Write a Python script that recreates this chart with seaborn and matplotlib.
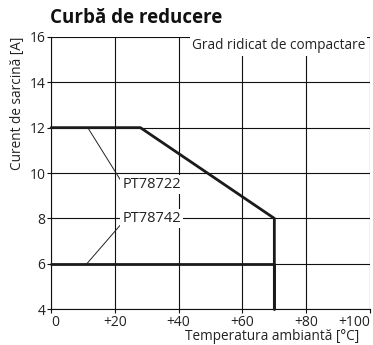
import matplotlib
matplotlib.use("Agg")
import matplotlib.pyplot as plt
import seaborn as sns
import pandas as pd

# Derating curves: ambient temperature [°C] vs. load current [A]
temp_pt78722 = [0, 28, 70, 70]
load_pt78722 = [12, 12, 8, 4]
temp_pt78742 = [0, 70, 70]
load_pt78742 = [6, 6, 4]

x_ticks = [0, 20, 40, 60, 80, 100]
x_tick_labels = ["0", "+20", "+40", "+60", "+80", "+100"]
y_ticks = [4, 6, 8, 10, 12, 14, 16]

sns.set_theme(style="white")
plt.rcParams["font.family"] = ["Open Sans", "DejaVu Sans"]

df = pd.concat([
    pd.DataFrame({"temp": temp_pt78722, "load": load_pt78722,
                  "model": "PT78722"}),
    pd.DataFrame({"temp": temp_pt78742, "load": load_pt78742,
                  "model": "PT78742"}),
], ignore_index=True)

fig = plt.figure(figsize=(3.73, 3.45), dpi=100)
ax = fig.add_axes([0.137, 0.104, 0.855, 0.789])

ax.set_xlim(0, 100)
ax.set_ylim(4, 16)
ax.set_xticks(x_ticks)
ax.set_xticklabels(x_tick_labels)
ax.set_yticks(y_ticks)
ax.grid(True, color="#111111", linewidth=0.8, zorder=0)
ax.set_axisbelow(True)

for s in ["left", "bottom"]:
    ax.spines[s].set_color("#111111")
    ax.spines[s].set_linewidth(0.8)
ax.spines["right"].set_visible(False)
ax.spines["top"].set_visible(False)

sns.lineplot(data=df, x="temp", y="load", units="model", estimator=None,
             sort=False, color="#1a1a1a", linewidth=2.0, ax=ax, zorder=3,
             clip_on=False)

ax.tick_params(axis="both", length=3, width=0.8, color="#111111",
               labelsize=10, pad=1, labelcolor="#222222", direction="out",
               left=True, bottom=True)
ax.get_xticklabels()[-1].set_horizontalalignment("right")
ax.get_xticklabels()[0].set_horizontalalignment("left")

ax.set_xlabel("Temperatura ambiantă [°C]", fontsize=9.8, color="#222222")
ax.xaxis.set_label_coords(0.965, -0.072)
ax.xaxis.label.set_horizontalalignment("right")
ax.xaxis.label.set_verticalalignment("top")
ax.set_ylabel("Curent de sarcină [A]", loc="top", fontsize=9.8,
              color="#222222", labelpad=3)

box = dict(facecolor="white", edgecolor="none", pad=1.5)
ax.text(98.5, 15.6, "Grad ridicat de compactare", ha="right", va="center",
        fontsize=9.8, color="#222222", bbox=box, zorder=4)

ax.annotate("PT78722", xy=(11.5, 12), xytext=(22.3, 9.5),
            fontsize=10.5, color="#222222", va="center", ha="left",
            bbox=box, zorder=4,
            arrowprops=dict(arrowstyle="-", color="#222222", lw=0.7,
                            shrinkA=0, shrinkB=0, relpos=(0, 0.6)))
ax.annotate("PT78742", xy=(11.2, 6), xytext=(22.3, 8.0),
            fontsize=10.5, color="#222222", va="center", ha="left",
            bbox=box, zorder=4,
            arrowprops=dict(arrowstyle="-", color="#222222", lw=0.7,
                            shrinkA=0, shrinkB=0, relpos=(0, 0.2)))

fig.text(0.134, 0.918, "Curbă de reducere", fontsize=13.5, fontweight="bold",
         color="#111111", ha="left", va="bottom")

fig.savefig("out.png", dpi=100, facecolor="white")
